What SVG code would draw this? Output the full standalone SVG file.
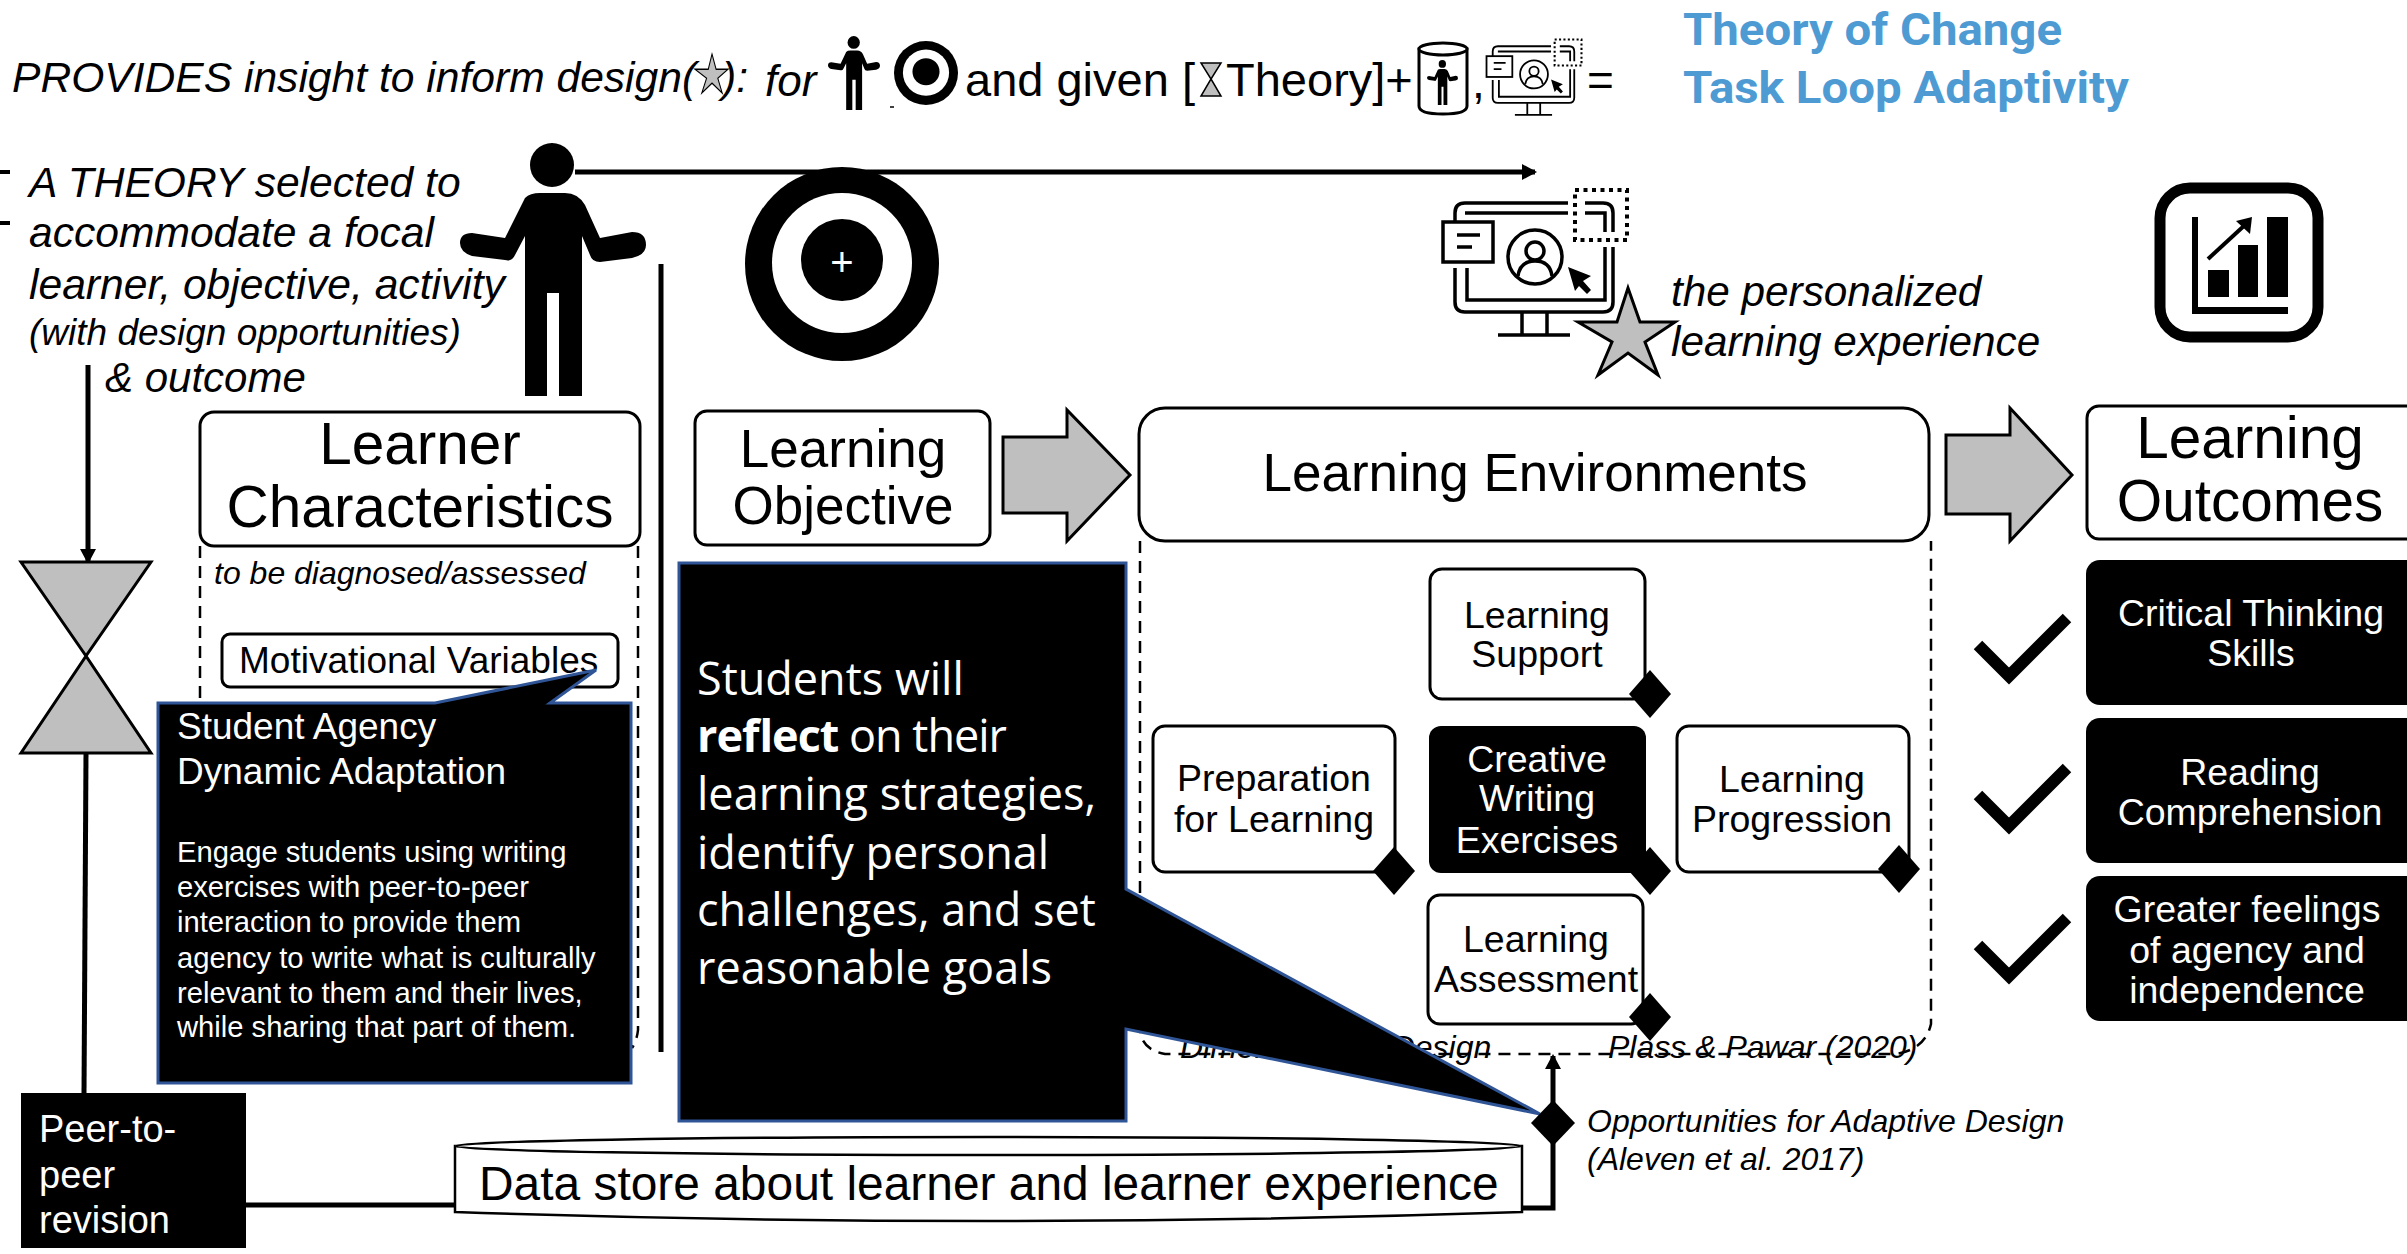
<svg xmlns="http://www.w3.org/2000/svg" xmlns:xlink="http://www.w3.org/1999/xlink" width="2407" height="1254" viewBox="0 0 2407 1254">
<style>
text{font-family:"Liberation Sans",Arial,sans-serif;fill:#000}
.i{font-style:italic}
.w{fill:#fff}
.m{text-anchor:middle}
.box{fill:#fff;stroke:#000;stroke-width:3}
.blk{fill:#000}
.dash{fill:none;stroke:#000;stroke-width:2.5;stroke-dasharray:12 8}
.call{fill:#000;stroke:#2f5597;stroke-width:3}
.gray{fill:#bfbfbf;stroke:#000;stroke-width:3}
.line{fill:none;stroke:#000;stroke-width:5}
.chk{fill:none;stroke:#000;stroke-width:12}
.ico{fill:none;stroke:#000;stroke-width:3.5}
.t38{font-size:37.5px}
.obj{font-family:"Open Sans",sans-serif;font-size:45px;fill:#fff}
.blue{font-family:Roboto,"Liberation Sans",sans-serif;font-weight:700;font-size:45px;fill:#4e9bd4}
</style>
<defs>
<marker id="arr" markerUnits="userSpaceOnUse" markerWidth="16" markerHeight="16" refX="13" refY="8" orient="auto"><path d="M0 0L15 8L0 16Z" fill="#000"/></marker>
<symbol id="person" viewBox="460 143 186 253" overflow="visible" preserveAspectRatio="none">
<circle cx="552" cy="165" r="22"/>
<path d="M525 198Q530 193 540 193H565Q578 193 585 205L600 238L632 232Q646 232 646 245Q646 255 632 258L600 262Q592 262 590 255L582 236V396H559V293H547V396H525V236L515 255Q512 262 505 260L472 256Q460 252 460 243Q460 233 472 233L505 238Z"/>
</symbol>
<symbol id="target" viewBox="745 167 194 194" overflow="visible">
<circle cx="842" cy="264" r="97"/><circle cx="842" cy="263" r="70" fill="#fff"/><circle cx="842" cy="260" r="41"/>
</symbol>
<symbol id="star" viewBox="1578 288 97 87" overflow="visible" preserveAspectRatio="none">
<path d="M1628 288L1640 322H1675L1645 342L1658 375L1628 353L1598 375L1612 342L1578 322H1617Z" fill="#bfbfbf" stroke="#000" stroke-width="3"/>
</symbol>
<symbol id="monitor" viewBox="1442 189 186 150" overflow="visible" preserveAspectRatio="none">
<path d="M1568 203H1465Q1455 203 1455 213V222M1455 268V302Q1455 312 1465 312H1603Q1613 312 1613 302V247M1585 203H1603Q1613 203 1613 213V232" class="ico"/>
<path d="M1465 213H1568M1585 213H1605V232M1605 247V300H1467V268" class="ico"/>
<rect x="1575" y="190" width="52" height="50" fill="none" stroke="#000" stroke-width="4" stroke-dasharray="4 4.5"/>
<rect x="1443" y="222" width="50" height="40" class="ico"/>
<path d="M1457 235H1480M1457 247H1472" class="ico"/>
<circle cx="1535" cy="257" r="27" class="ico"/><circle cx="1535" cy="251" r="9" class="ico"/>
<path d="M1518 276Q1520 261 1535 261Q1550 261 1552 276" class="ico"/>
<path d="M1568 267L1591 276L1583 281L1591 290L1587 294L1579 286L1575 291Z"/>
<path d="M1522 312V335M1547 312V335M1498 335H1570" class="ico"/>
</symbol>
</defs>

<g id="title">
<text class="i" x="12" y="92" font-size="42.6">PROVIDES insight to inform design(</text>
<text class="i" x="722" y="92" font-size="42.6">):</text>
<use xlink:href="#star" x="695" y="54" width="33" height="39"/>
<text class="i" x="765" y="96" font-size="44">for</text>
<use xlink:href="#person" x="828" y="36" width="52" height="74"/>
<path d="M890 107h4" stroke="#000" stroke-width="1.5"/>
<use xlink:href="#target" x="894" y="41" width="64" height="64"/>
<text x="965" y="96" font-size="47">and given [</text>
<path d="M1201 63H1221L1211 79L1221 96H1201L1211 79Z" fill="#bfbfbf" stroke="#000" stroke-width="1.5"/>
<text x="1226" y="96" font-size="47">Theory]+</text>
<g id="mini-store">
<path d="M1419 49V106Q1419 114 1443 114Q1467 114 1467 106V49Z" fill="#fff" stroke="#000" stroke-width="3"/>
<ellipse cx="1443" cy="49" rx="24" ry="6" fill="#fff" stroke="#000" stroke-width="3"/>
<use xlink:href="#person" x="1427" y="60" width="31" height="45"/>
</g>
<text x="1472" y="98" font-size="46">,</text>
<use xlink:href="#monitor" x="1486" y="39" width="96" height="78"/>
<text x="1587" y="96" font-size="46">=</text>
<text class="blue" x="1683" y="45" textLength="379" lengthAdjust="spacingAndGlyphs">Theory of Change</text>
<text class="blue" x="1683" y="103" textLength="446" lengthAdjust="spacingAndGlyphs">Task Loop Adaptivity</text>
</g>

<g id="theory-note">
<path d="M0 172H10M0 223H10" stroke="#000" stroke-width="4"/>
<text class="i" x="29" y="197" font-size="42.6">A THEORY selected to</text>
<text class="i" x="29" y="247" font-size="42.6">accommodate a focal</text>
<text class="i" x="29" y="299" font-size="42.6">learner, objective, activity</text>
<text class="i" x="29" y="345" font-size="37">(with design opportunities)</text>
<text class="i" x="105" y="392" font-size="42">&amp; outcome</text>
</g>

<g id="connectors">
<path d="M575 172H1535" class="line" marker-end="url(#arr)"/>
<path d="M88 365V562" class="line" marker-end="url(#arr)"/>
<path d="M86 753L84 1094" class="line"/>
<path d="M661 264V1052" class="line"/>
<path d="M246 1205H455" class="line"/>
<path d="M1522 1208H1553V1056" class="line" marker-end="url(#arr)"/>
</g>

<g id="person-large"><use xlink:href="#person" x="460" y="143" width="186" height="253"/></g>
<g id="target-large"><use xlink:href="#target" x="745" y="167" width="194" height="194"/><text class="w m" x="842" y="276" font-size="40">+</text></g>
<g id="hourglass"><path d="M21 562H151L86 656L151 753H21L86 656Z" class="gray"/></g>

<g id="monitor-large"><use xlink:href="#monitor" x="1442" y="189" width="186" height="150"/></g>
<g id="star-large"><use xlink:href="#star" x="1578" y="288" width="97" height="87"/></g>
<text class="i" x="1671" y="306" font-size="42.3">the personalized</text>
<text class="i" x="1671" y="356" font-size="42.3">learning experience</text>

<g id="chart-icon">
<rect x="2160" y="188" width="158" height="149" rx="30" fill="#fff" stroke="#000" stroke-width="11"/>
<path d="M2192 217H2198V307H2288V314H2192Z"/>
<rect x="2208" y="270" width="21" height="27"/><rect x="2238" y="245" width="20" height="52"/><rect x="2267" y="217" width="21" height="80"/>
<path d="M2208 259L2246 224" stroke="#000" stroke-width="4"/><path d="M2236 221L2252 217L2250 234Z"/>
</g>

<g id="learner-characteristics">
<path d="M200 546V703M638 546V1030Q637 1040 632 1048" class="dash"/>
<rect x="200" y="412" width="440" height="134" rx="14" class="box"/>
<text class="m" x="420" y="464" font-size="58.5">Learner</text>
<text class="m" x="420" y="527" font-size="58.5">Characteristics</text>
<text class="i" x="214" y="584" font-size="32">to be diagnosed/assessed</text>
</g>
<g id="motivational-variables">
<rect x="222" y="634" width="396" height="53" rx="8" class="box"/>
<text x="239" y="673" font-size="37">Motivational Variables</text>
</g>
<g id="student-agency">
<path d="M158 703H435L596 670L550 703H631V1083H158Z" class="call"/>
<text class="w" x="177" y="739" font-size="37">Student Agency</text>
<text class="w" x="177" y="784" font-size="37">Dynamic Adaptation</text>
<text class="w" x="177" y="862" font-size="29.2">Engage students using writing</text>
<text class="w" x="177" y="897" font-size="29.2">exercises with peer-to-peer</text>
<text class="w" x="177" y="932" font-size="29.2">interaction to provide them</text>
<text class="w" x="177" y="968" font-size="29.2">agency to write what is culturally</text>
<text class="w" x="177" y="1003" font-size="29.2">relevant to them and their lives,</text>
<text class="w" x="177" y="1037" font-size="29.2">while sharing that part of them.</text>
</g>

<g id="peer-revision">
<rect x="21" y="1093" width="225" height="155" class="blk"/>
<text class="w" x="39" y="1142" font-size="38">Peer-to-</text>
<text class="w" x="39" y="1188" font-size="38">peer</text>
<text class="w" x="39" y="1233" font-size="38">revision</text>
</g>

<g id="data-store">
<path d="M455 1146V1212Q988 1230 1522 1212V1146Z" fill="#fff" stroke="#000" stroke-width="2.5"/>
<ellipse cx="988" cy="1146" rx="533" ry="9" fill="#fff" stroke="#000" stroke-width="2.5"/>
<text x="479" y="1200" font-size="47.9">Data store about learner and learner experience</text>
</g>

<g id="learning-objective">
<rect x="695" y="411" width="295" height="134" rx="12" class="box"/>
<text class="m" x="843" y="467" font-size="53">Learning</text>
<text class="m" x="843" y="524" font-size="53">Objective</text>
</g>
<g id="block-arrow-1"><path d="M1003 437H1067V410L1130 475L1067 541V513H1003Z" class="gray"/></g>

<g id="learning-environments">
<path d="M1140 541V1030Q1142 1050 1165 1054H1895Q1925 1050 1931 1024V541" class="dash"/>
<text class="i" x="1180" y="1058" font-size="32">Dimensions of Design</text>
<text class="i" x="1608" y="1058" font-size="32">Plass &amp; Pawar (2020)</text>
<rect x="1139" y="408" width="790" height="133" rx="26" class="box"/>
<text class="m" x="1535" y="491" font-size="53">Learning Environments</text>
</g>
<g id="block-arrow-2"><path d="M1946 435H2010V408L2072 475L2010 541V514H1946Z" class="gray"/></g>
<g id="learning-outcomes">
<rect x="2087" y="406" width="340" height="133" rx="12" class="box"/>
<text class="m" x="2250" y="458" font-size="58.5">Learning</text>
<text class="m" x="2250" y="521" font-size="58.5">Outcomes</text>
</g>

<g id="learning-support">
<rect x="1430" y="569" width="215" height="130" rx="12" class="box"/>
<text class="m t38" x="1537" y="628">Learning</text><text class="m t38" x="1537" y="667">Support</text>
<path d="M1650 670L1671 694L1650 718L1629 694Z"/>
</g>
<g id="preparation">
<rect x="1153" y="726" width="242" height="146" rx="12" class="box"/>
<text class="m t38" x="1274" y="791">Preparation</text><text class="m t38" x="1274" y="832">for Learning</text>
<path d="M1394 847L1415 871L1394 895L1373 871Z"/>
</g>
<g id="creative-writing">
<rect x="1429" y="726" width="217" height="147" rx="12" class="blk"/>
<text class="m w t38" x="1537" y="772">Creative</text><text class="m w t38" x="1537" y="811">Writing</text><text class="m w t38" x="1537" y="853">Exercises</text>
<path d="M1650 847L1671 871L1650 895L1629 871Z"/>
</g>
<g id="learning-progression">
<rect x="1677" y="726" width="232" height="146" rx="12" class="box"/>
<text class="m t38" x="1792" y="792">Learning</text><text class="m t38" x="1792" y="832">Progression</text>
<path d="M1899 845L1920 869L1899 893L1878 869Z"/>
</g>
<g id="learning-assessment">
<rect x="1428" y="895" width="215" height="129" rx="12" class="box"/>
<text class="m t38" x="1536" y="952">Learning</text><text class="m t38" x="1536" y="992">Assessment</text>
<path d="M1650 993L1671 1017L1650 1041L1629 1017Z"/>
</g>

<g id="objective-callout">
<path d="M679 563H1126V889L1540 1114L1126 1029V1121H679Z" class="call"/>
<text class="obj" x="697" y="695">Students will</text>
<text class="obj" x="697" y="752" textLength="310"><tspan font-weight="700">reflect</tspan> on their</text>
<text class="obj" x="697" y="810">learning strategies,</text>
<text class="obj" x="697" y="869">identify personal</text>
<text class="obj" x="697" y="926">challenges, and set</text>
<text class="obj" x="697" y="984">reasonable goals</text>
</g>

<g id="adaptive-opportunity">
<path d="M1553 1100L1575 1123L1553 1146L1531 1123Z"/>
<text class="i" x="1587" y="1132" font-size="32">Opportunities for Adaptive Design</text>
<text class="i" x="1587" y="1170" font-size="32">(Aleven et al. 2017)</text>
</g>

<g id="outcome-1">
<path d="M1978 645L2009 676L2067 618" class="chk"/>
<rect x="2086" y="560" width="340" height="145" rx="14" class="blk"/>
<text class="m w t38" x="2251" y="626">Critical Thinking</text><text class="m w t38" x="2251" y="666">Skills</text>
</g>
<g id="outcome-2">
<path d="M1978 795L2009 826L2067 768" class="chk"/>
<rect x="2086" y="718" width="340" height="145" rx="14" class="blk"/>
<text class="m w t38" x="2250" y="785">Reading</text><text class="m w t38" x="2250" y="825">Comprehension</text>
</g>
<g id="outcome-3">
<path d="M1978 945L2009 976L2067 918" class="chk"/>
<rect x="2086" y="876" width="340" height="145" rx="14" class="blk"/>
<text class="m w t38" x="2247" y="922">Greater feelings</text><text class="m w t38" x="2247" y="963">of agency and</text><text class="m w t38" x="2247" y="1003">independence</text>
</g>
</svg>
